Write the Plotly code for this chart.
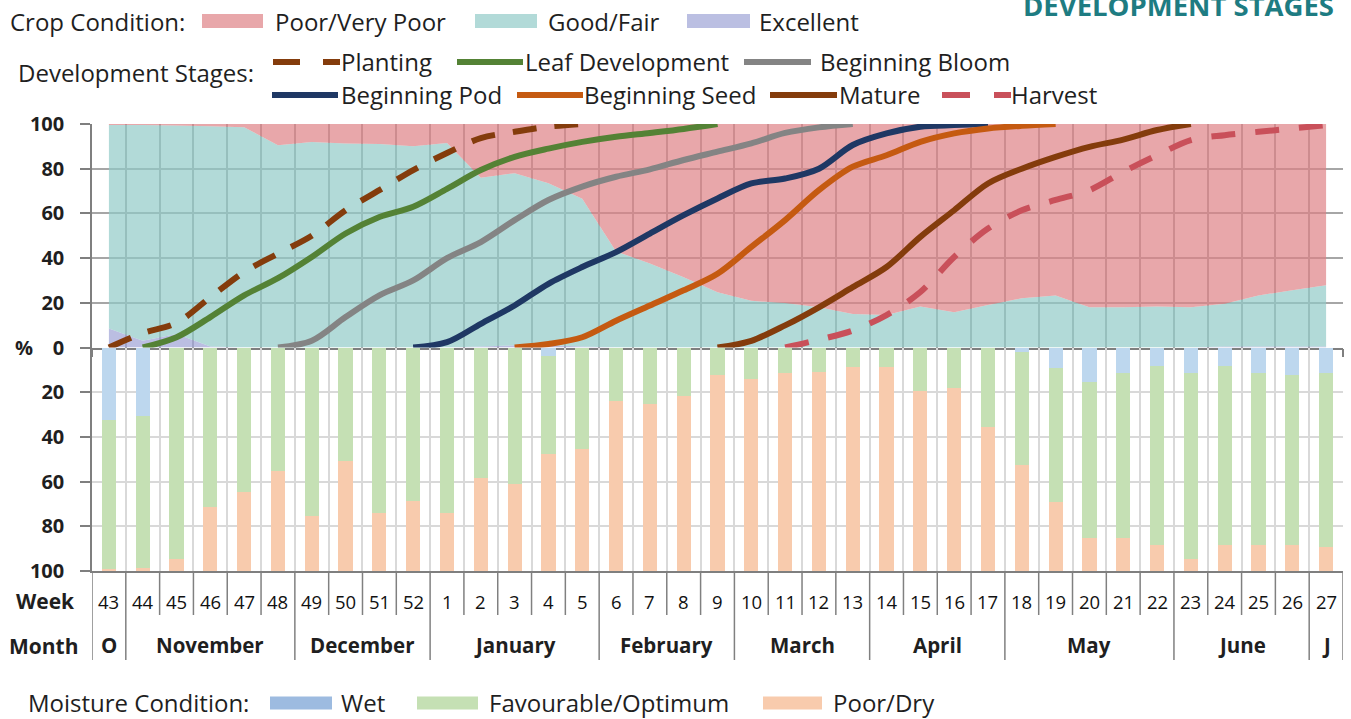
import plotly.graph_objects as go

# ---- data ----
weeks = ["43", "44", "45", "46", "47", "48", "49", "50", "51", "52",
         "1", "2", "3", "4", "5", "6", "7", "8", "9", "10", "11", "12", "13",
         "14", "15", "16", "17", "18", "19", "20", "21", "22", "23", "24",
         "25", "26", "27"]
months = ["O", "November", "December", "January", "February", "March",
          "April", "May", "June", "J"]
month_weeks = [1, 5, 4, 5, 4, 4, 4, 5, 4, 1]

# crop condition (%), stacked area
excellent = [8.5, 3, 6, 0.5, 0, 0, 0, 0, 0, 0, 0, 0.5, 1, 1, 0.5, 0, 0, 0, 0,
             0, 0, 0, 0, 0, 0, 0, 0, 0, 0, 0, 0, 0, 0, 0.5, 0.5, 0.5, 0.5]
good_fair = [91, 96.5, 93.3, 98.5, 98.5, 90.5, 92, 91.3, 91, 90, 91.5, 75.5,
             77, 72.5, 66, 43, 37.6, 31.4, 24.7, 20.9, 19.9, 18, 15, 14.5,
             18.4, 15.8, 19, 22, 23.3, 18, 18, 18.3, 18, 19.1, 22.8, 25.1, 27.3]
poor_very_poor = [0.5, 0.5, 0.7, 1, 1.5, 9.5, 8, 8.7, 9, 10, 8.5, 24, 22, 26.5,
                  33.5, 57, 62.4, 68.6, 75.3, 79.1, 80.1, 82, 85, 85.5, 81.6,
                  84.2, 81, 78, 76.7, 82, 82, 81.7, 82, 80.4, 76.7, 74.4, 72.2]

# moisture condition (%), stacked bars hanging down
wet = [32, 30.5, 0, 0, 0, 0, 0, 0, 0, 0, 0, 0, 0, 3.5, 0, 0, 0, 0, 0, 0, 0,
       0, 0, 0, 0, 0, 0, 2, 9, 15, 11, 8, 11, 8, 11, 12, 11]
favourable = [67, 68, 94.3, 71.3, 64.6, 55.2, 75.3, 50.7, 73.8, 68.3, 73.8,
              58.3, 60.9, 44, 45.2, 23.7, 25.1, 21.4, 12.2, 13.7, 11.3, 10.7,
              8.3, 8.3, 19.2, 17.7, 35.3, 50.2, 60, 70, 74, 80, 83.5, 80, 77,
              76, 78]
poor_dry = [1, 1.5, 5.7, 28.7, 35.4, 44.8, 24.7, 49.3, 26.2, 31.7, 26.2, 41.7,
            39.1, 52.5, 54.8, 76.3, 74.9, 78.6, 87.8, 86.3, 88.7, 89.3, 91.7,
            91.7, 80.8, 82.3, 64.7, 47.8, 31, 15, 15, 12, 5.5, 12, 12, 12, 11]

# development stages, cumulative %
N = None
planting = [0, 6.4, 11, 22.5, 33.8, 42, 50, 61.4, 70.4, 79.4, 87, 93.7, 96.5,
            98.8, 100] + [N] * 22
leaf_dev = [N, 0, 4.6, 13.6, 23.3, 31, 40.5, 51, 58.4, 63, 71, 79.4, 85.3, 89,
            92, 94.3, 96, 97.8, 100] + [N] * 18
beg_bloom = [N] * 5 + [0, 3, 13.6, 23.3, 30, 40, 47.2, 57, 66, 72, 76.4, 79.7,
                       83.9, 87.6, 91.3, 96, 98.5, 100] + [N] * 14
beg_pod = [N] * 9 + [0, 2.4, 10.6, 18.8, 28.5, 36, 42.7, 51, 59.2, 66.7, 73.4,
                     75.6, 80, 90.6, 95.8, 98.8, 99.5, 100] + [N] * 10
beg_seed = [N] * 12 + [0, 1.6, 4.6, 12, 18.8, 25.6, 33, 45, 57, 70.4, 80.9, 86,
                       92, 95.8, 98, 99.2, 100] + [N] * 8
mature = [N] * 18 + [0, 3, 9.9, 18, 27, 36, 49.5, 61.4, 73.4, 80, 85.3, 89.8,
                     93, 97.3, 100] + [N] * 4
harvest = [N] * 20 + [0, 3.5, 7.6, 14.5, 24.8, 40.5, 53.2, 61.4, 66, 70.4,
                      78.6, 86, 92.8, 95, 96.5, 98, 99.5]

# ---- layout geometry (pixels of the 1351x719 page) ----
W, H = 1351, 719
L, R, T, B = 92, 1343, 124, 571
FONT = "'Open Sans', Lato, sans-serif"
TXT = "#1f1f1f"


def px(x):
    return (x - L) / (R - L)


def py(y):
    return (B - y) / (B - T)


idx = list(range(len(weeks)))
bounds = [i - 0.5 for i in range(len(weeks) + 1)]

fig = go.Figure()

crop = [
    ("Excellent", excellent, "rgba(158,162,214,0.7)"),
    ("Good/Fair", good_fair, "rgba(145,202,199,0.7)"),
    ("Poor/Very Poor", poor_very_poor, "rgba(222,130,134,0.7)"),
]
for name, vals, col in crop:
    fig.add_trace(go.Scatter(
        x=idx, y=vals, name=name, stackgroup="crop", mode="none",
        fillcolor=col, xaxis="x", yaxis="y", hoverinfo="skip",
    ))

stages = [
    ("Planting", planting, "#843C0C", "24px,18px"),
    ("Leaf Development", leaf_dev, "#548235", "solid"),
    ("Beginning Bloom", beg_bloom, "#848484", "solid"),
    ("Beginning Pod", beg_pod, "#1F3864", "solid"),
    ("Beginning Seed", beg_seed, "#C55A11", "solid"),
    ("Mature", mature, "#843C0C", "solid"),
    ("Harvest", harvest, "#C9505A", "24px,20px"),
]
for name, vals, col, dash in stages:
    fig.add_trace(go.Scatter(
        x=idx, y=vals, name=name, mode="lines",
        line=dict(color=col, width=6, dash=dash, shape="spline", smoothing=0.9),
        xaxis="x", yaxis="y",
    ))

moisture = [
    ("Wet", wet, "#BDD7EE"),
    ("Favourable/Optimum", favourable, "#C5E0B4"),
    ("Poor/Dry", poor_dry, "#F8CBAD"),
]
for name, vals, col in moisture:
    fig.add_trace(go.Bar(
        x=idx, y=vals, name=name, marker=dict(color=col, line=dict(width=0)),
        width=0.42, xaxis="x2", yaxis="y2",
    ))

axis_font = dict(family=FONT, size=20, color=TXT, weight="bold")
fig.update_layout(
    width=W, height=H,
    margin=dict(l=L, r=W - R, t=T, b=H - B),
    paper_bgcolor="white", plot_bgcolor="white",
    barmode="stack", bargap=0, showlegend=False,
    font=dict(family=FONT, color=TXT),
    xaxis=dict(
        domain=[0, 1], anchor="y", range=[-0.5, len(weeks) - 0.5],
        tickvals=bounds, showticklabels=False, showgrid=True,
        gridcolor="#A6A6A6", gridwidth=1.5, ticks="outside", ticklen=8,
        tickcolor="#7F7F7F", tickwidth=1.5, showline=True,
        linecolor="#7F7F7F", linewidth=1.5, zeroline=False,
    ),
    yaxis=dict(
        domain=[0.5, 1], anchor="x", range=[0, 100],
        tickvals=[0, 20, 40, 60, 80, 100], tickfont=axis_font,
        showgrid=True, gridcolor="#A6A6A6", gridwidth=1.5,
        ticks="outside", ticklen=10, tickcolor="#7F7F7F", tickwidth=1.5,
        ticklabelstandoff=12, showline=True, linecolor="#7F7F7F",
        linewidth=1.5, zeroline=False,
    ),
    xaxis2=dict(
        domain=[0, 1], anchor="y2", range=[-0.5, len(weeks) - 0.5],
        tickvals=bounds, showticklabels=False, showgrid=True,
        gridcolor="#D9D9D9", gridwidth=1.5, ticks="", showline=True,
        linecolor="#7F7F7F", linewidth=1.5, zeroline=False,
    ),
    yaxis2=dict(
        domain=[0, 0.5], anchor="x2", range=[100, 0],
        tickvals=[20, 40, 60, 80, 100], tickfont=axis_font,
        showgrid=True, gridcolor="#D9D9D9", gridwidth=1.5,
        ticks="outside", ticklen=10, tickcolor="#7F7F7F", tickwidth=1.5,
        ticklabelstandoff=12, showline=True, linecolor="#7F7F7F",
        linewidth=1.5, zeroline=False,
    ),
)

ann = []
shapes = []


def text(x, y, s, size, bold=False, xref="paper", xanchor="center", color=TXT):
    ann.append(dict(x=x, y=py(y), xref=xref, yref="paper", text=s,
                    xanchor=xanchor, yanchor="middle", showarrow=False,
                    borderpad=0,
                    font=dict(size=size, color=color,
                              weight="bold" if bold else "normal")))


# week / month table under the chart
for i, w in enumerate(weeks):
    text(i, 601, w, 18.5, xref="x2", color="#111111")
month_edges = [-0.5]
for n in month_weeks:
    month_edges.append(month_edges[-1] + n)
for m, a, b in zip(months, month_edges[:-1], month_edges[1:]):
    text((a + b) / 2, 645, m, 20.5, bold=True, xref="x2")
for b in bounds:
    bottom = 660 if b in month_edges else 615
    shapes.append(dict(type="line", xref="x2", yref="paper", x0=b, x1=b,
                       y0=0, y1=py(bottom),
                       line=dict(color="#808080", width=1.5)))
text(px(45), 601, "Week", 21, bold=True)
text(px(44), 646, "Month", 21, bold=True)
text(px(24), 347, "%", 20, bold=True)

# title, cut off at the top like the source
ann.append(dict(x=px(1336), y=py(26), xref="paper", yref="paper",
                xanchor="right", yanchor="bottom", showarrow=False,
                text="DEVELOPMENT STAGES",
                font=dict(size=27.5, color="#1E7C82", weight="bold")))


def label(x, y, s):
    text(px(x), y, s, 24, xanchor="left")


def swatch(x0, x1, y, col, h=14):
    shapes.append(dict(type="rect", xref="paper", yref="paper",
                       x0=px(x0), x1=px(x1), y0=py(y - h / 2), y1=py(y + h / 2),
                       fillcolor=col, line=dict(width=0)))


def stroke(x0, x1, y, col):
    shapes.append(dict(type="line", xref="paper", yref="paper",
                       x0=px(x0), x1=px(x1), y0=py(y), y1=py(y),
                       line=dict(color=col, width=6)))


# crop condition legend
label(9, 21, "Crop Condition:")
swatch(202, 263, 21, "#E8A7AA")
label(274, 21, "Poor/Very Poor")
swatch(475, 537, 21, "#B2DAD8")
label(547, 21, "Good/Fair")
swatch(687, 750, 21, "#BBBFE2")
label(758, 21, "Excellent")

# development stage legend
label(17, 72, "Development Stages:")
stroke(273, 300, 62, "#843C0C")
stroke(323, 340, 62, "#843C0C")
label(340, 62, "Planting")
stroke(457, 523, 62, "#548235")
label(524, 62, "Leaf Development")
stroke(744, 811, 62, "#848484")
label(819, 62, "Beginning Bloom")
stroke(272, 338, 95, "#1F3864")
label(340, 95, "Beginning Pod")
stroke(517, 583, 95, "#C55A11")
label(583, 95, "Beginning Seed")
stroke(770, 837, 95, "#843C0C")
label(838, 95, "Mature")
stroke(942, 970, 95, "#C9505A")
stroke(994, 1011, 95, "#C9505A")
label(1010, 95, "Harvest")

# moisture legend
label(27, 702, "Moisture Condition:")
swatch(270, 332, 703, "#9DBBE0", h=13)
label(340, 702, "Wet")
swatch(417, 478, 703, "#C5E0B4", h=13)
label(488, 702, "Favourable/Optimum")
swatch(763, 822, 703, "#F8CBAD", h=13)
label(832, 702, "Poor/Dry")

fig.update_layout(annotations=ann, shapes=shapes)
fig.write_html("out.html", config={"displayModeBar": False},
               post_script="document.body.style.margin='0px';")
